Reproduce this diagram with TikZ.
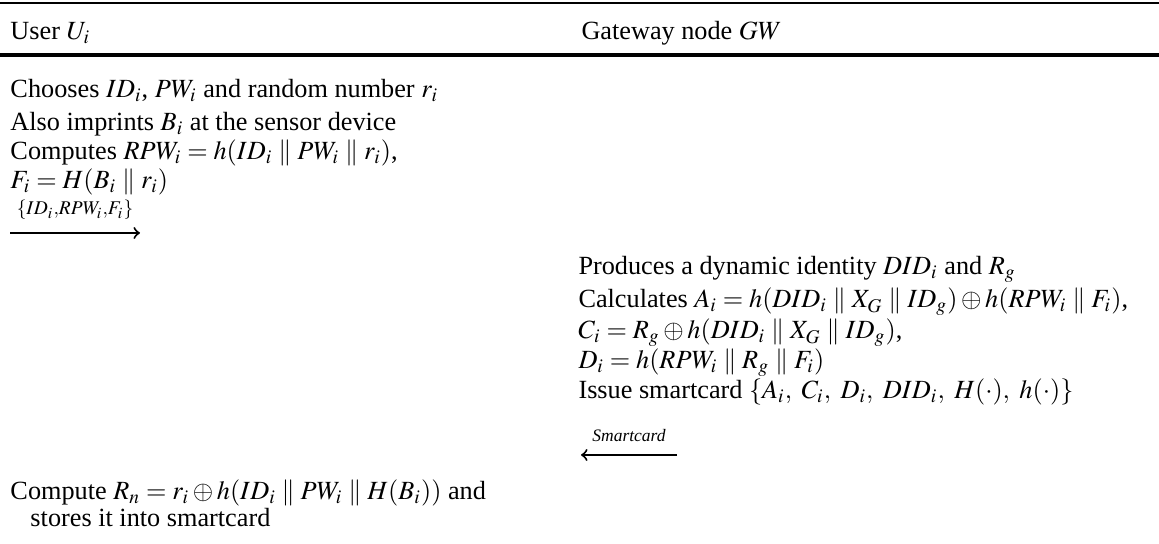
\documentclass[tikz,border=0pt]{standalone}
\usepackage{mathptmx}
\usepackage[no-math]{fontspec}
\setmainfont{Liberation Serif}
\usetikzlibrary{positioning}

\tikzset{
  txt/.style={anchor=base west, inner sep=0pt, font=\fontsize{10.5}{12}\selectfont},
  msg/.style={->, line width=0.8pt},
  lbl/.style={above=5pt, inner sep=0pt, font=\fontsize{10.5}{12}\selectfont},
}

\begin{document}
\begin{tikzpicture}[x=0.4pt, y=-0.4pt]
  \useasboundingbox (0,0) rectangle (1159,544);

  %table rules
  \draw[line width=0.6pt] (0,3) -- (1159,3);
  \draw[line width=1.6pt] (0,55) -- (1159,55);

  %column heads
  \node[txt] (user) at (10,40) {User $U_i$};
  \node[txt] (gw) at (581,40) {Gateway node $GW$};

  %user side
  \node[txt] (choose) at (10,98) {Chooses $ID_i$, $PW_i$ and random number $r_i$};
  \node[txt] (imprint) at (10,131) {Also imprints $B_i$ at the sensor device};
  \node[txt] (rpw) at (10,160) {Computes $RPW_i = h(ID_i \parallel PW_i \parallel r_i)$,};
  \node[txt] (fi) at (10,189) {$F_i = H(B_i \parallel r_i)$};

  %registration request
  \coordinate (reqa) at (10,233);
  \coordinate (reqb) at (140,233);
  \draw[msg] (reqa) -- (reqb) node[lbl, midway] (reqlbl) {$\scriptstyle\{ID_i,RPW_i,F_i\}$};

  %gateway side
  \node[txt] (did) at (578,275) {Produces a dynamic identity $DID_i$ and $R_g$};
  \node[txt] (ai) at (578,308) {Calculates $A_i = h(DID_i \parallel X_G \parallel ID_g) \oplus h(RPW_i \parallel F_i)$,};
  \node[txt] (ci) at (578,339) {$C_i = R_g \oplus h(DID_i \parallel X_G \parallel ID_g)$,};
  \node[txt] (di) at (578,369) {$D_i = h(RPW_i \parallel R_g \parallel F_i)$};
  \node[txt] (issue) at (578,399) {Issue smartcard $\{A_i,\ C_i,\ D_i,\ DID_i,\ H(\cdot),\ h(\cdot)\}$};

  %smartcard back to user
  \coordinate (sca) at (677,455);
  \coordinate (scb) at (581,455);
  \draw[msg] (sca) -- (scb) node[lbl, midway] (sclbl) {\scriptsize\itshape Smartcard};

  %user stores R_n
  \node[txt] (rn) at (10,500) {Compute $R_n = r_i \oplus h(ID_i \parallel PW_i \parallel H(B_i))$ and};
  \node[txt] (store) at (30,527) {stores it into smartcard};
\end{tikzpicture}
\end{document}
